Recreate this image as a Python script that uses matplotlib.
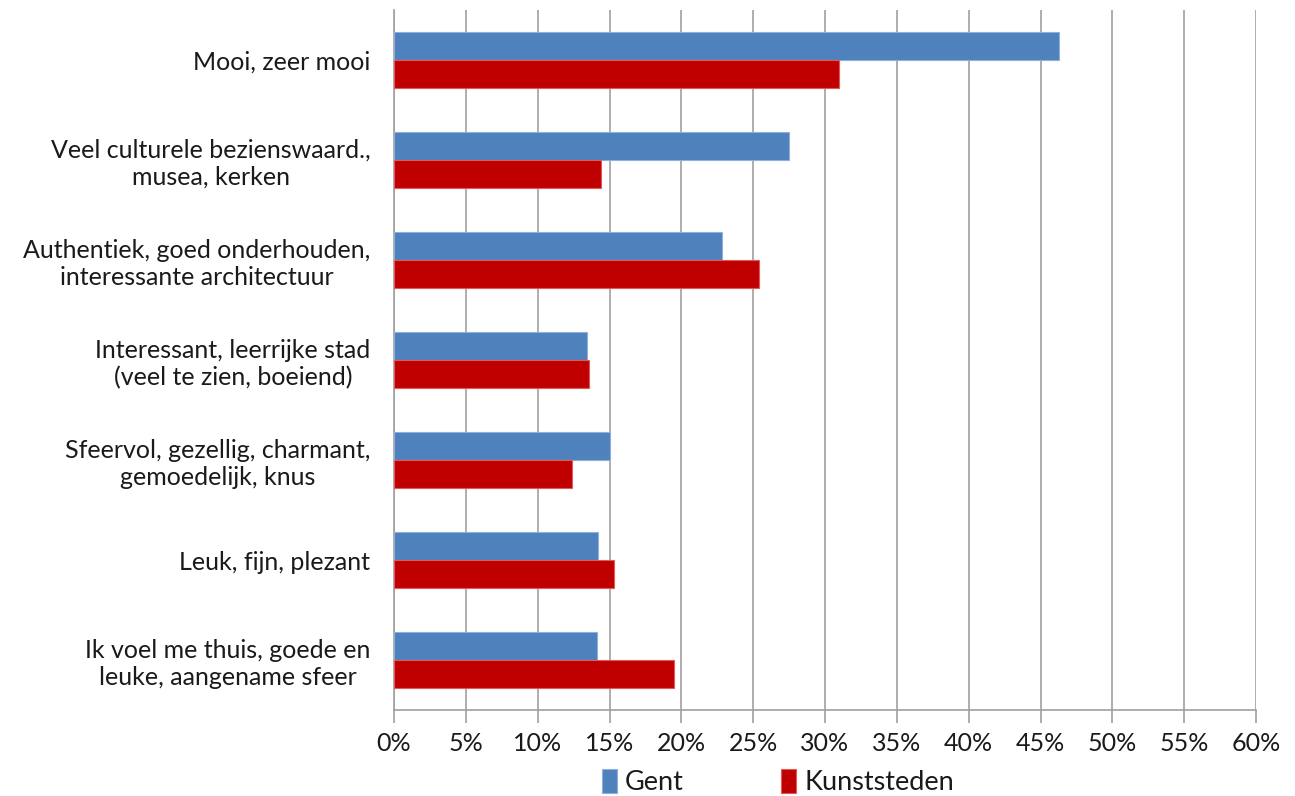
import matplotlib
matplotlib.use("Agg")
import matplotlib.pyplot as plt
import numpy as np
from matplotlib.ticker import FuncFormatter, MultipleLocator

categories = [
    "Mooi, zeer mooi",
    "Veel culturele bezienswaard.,\nmusea, kerken",
    "Authentiek, goed onderhouden,\ninteressante architectuur",
    "Interessant, leerrijke stad\n(veel te zien, boeiend)",
    "Sfeervol, gezellig, charmant,\ngemoedelijk, knus",
    "Leuk, fijn, plezant",
    "Ik voel me thuis, goede en\nleuke, aangename sfeer",
]
gent = [46.3, 27.5, 22.8, 13.4, 15.0, 14.2, 14.1]
kunststeden = [31.0, 14.4, 25.4, 13.6, 12.4, 15.3, 19.5]
series_names = ["Gent", "Kunststeden"]

plt.rcParams["font.family"] = ["Lato", "DejaVu Sans"]

fig = plt.figure(figsize=(12.95, 7.96), dpi=100)
ax = fig.add_axes([394 / 1295, 86 / 796, 862 / 1295, 700 / 796])

y = np.arange(len(categories))
h = 0.28
ax.barh(y - h / 2, gent, height=h, color="#4F81BD", edgecolor="#8EB0DC",
        linewidth=0.8, label=series_names[0], zorder=3)
ax.barh(y + h / 2, kunststeden, height=h, color="#C00000", edgecolor="#E05A5A",
        linewidth=0.8, label=series_names[1], zorder=3)

ax.set_ylim(len(categories) - 0.5, -0.5)
ax.set_xlim(0, 60)
ax.xaxis.set_major_locator(MultipleLocator(5))
ax.xaxis.set_major_formatter(FuncFormatter(lambda v, p: f"{v:.0f}%"))
ax.set_yticks(y)
ax.set_yticklabels(categories, fontsize=18, color="#1a1a1a", linespacing=1.2,
                   multialignment="center")

ax.grid(axis="x", color="#A0A0A0", linewidth=1.2, zorder=0)
for s in ["top", "right"]:
    ax.spines[s].set_visible(False)
for s in ["left", "bottom"]:
    ax.spines[s].set_color("#A0A0A0")
    ax.spines[s].set_linewidth(1.2)

ax.tick_params(axis="y", length=0, pad=17)
ax.tick_params(axis="x", direction="out", length=9, width=1.2, color="#A0A0A0",
               labelsize=18, labelcolor="#1a1a1a", pad=7)

leg = fig.legend(loc="center", bbox_to_anchor=(778 / 1295, 1 - 782 / 796), ncol=2,
                 frameon=False, fontsize=19.5, handlelength=0.55, handleheight=1.0,
                 handletextpad=0.3, columnspacing=3.6)
for t in leg.get_texts():
    t.set_color("#1a1a1a")

fig.savefig("out.png", dpi=100)
